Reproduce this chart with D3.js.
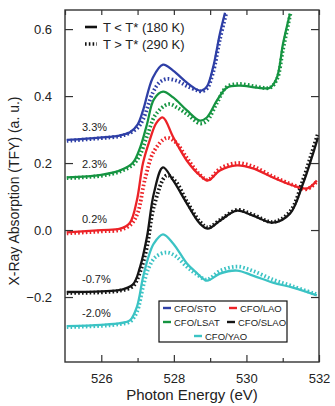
<!DOCTYPE html>
<html lang="en">
<head>
<meta charset="UTF-8">
<title>XAS spectra</title>
<script src="https://d3js.org/d3.v7.min.js"></script>
<style>
  body { margin: 0; background: #fff; font-family: "Liberation Sans", Arial, sans-serif; }
  .axis path, .axis line { stroke: #333; stroke-width: 1.2px; }
  .axis text { font-size: 13px; fill: #222; font-family: "Liberation Sans", Arial, sans-serif; }
</style>
</head>
<body>
<svg width="335" height="406"></svg>
<script>
// energies (eV) and absorption (a.u.)
const stoCold = [[525.05,0.269],[525.96,0.276],[526.50,0.282],[526.79,0.292],[527.00,0.315],[527.15,0.357],[527.42,0.455],[527.70,0.494],[527.98,0.476],[528.36,0.440],[528.64,0.419],[528.76,0.416],[528.91,0.428],[529.08,0.485],[529.27,0.587],[529.41,0.649]];
const stoHot  = [[525.05,0.266],[525.96,0.274],[526.50,0.280],[526.79,0.290],[527.00,0.305],[527.15,0.330],[527.42,0.410],[527.60,0.440],[527.80,0.451],[528.10,0.445],[528.36,0.430],[528.64,0.417],[528.76,0.414],[528.91,0.422],[529.08,0.470],[529.27,0.570],[529.45,0.650]];
const lsatCold = [[525.05,0.157],[526.00,0.165],[526.52,0.178],[526.87,0.201],[527.07,0.246],[527.26,0.316],[527.45,0.390],[527.70,0.413],[527.98,0.396],[528.36,0.357],[528.72,0.327],[528.91,0.336],[529.19,0.387],[529.46,0.425],[529.82,0.431],[530.29,0.425],[530.65,0.425],[530.84,0.455],[531.01,0.557],[531.20,0.646]];
const lsatHot  = [[525.05,0.155],[526.00,0.162],[526.52,0.175],[526.87,0.195],[527.07,0.225],[527.26,0.280],[527.50,0.345],[527.85,0.376],[528.10,0.365],[528.40,0.343],[528.72,0.318],[528.91,0.326],[529.19,0.380],[529.46,0.428],[529.82,0.436],[530.29,0.428],[530.65,0.425],[530.84,0.450],[531.01,0.540],[531.22,0.650]];
const laoCold = [[525.05,-0.007],[526.00,0.000],[526.52,0.004],[526.79,0.022],[526.98,0.088],[527.15,0.200],[527.34,0.270],[527.52,0.320],[527.70,0.336],[527.98,0.278],[528.36,0.207],[528.72,0.163],[528.94,0.148],[529.27,0.178],[529.74,0.193],[530.18,0.184],[530.73,0.157],[531.28,0.133],[531.67,0.124],[531.94,0.148]];
const laoHot  = [[525.05,-0.010],[526.00,-0.004],[526.50,0.000],[526.80,0.015],[527.00,0.050],[527.20,0.150],[527.45,0.235],[527.80,0.275],[528.05,0.262],[528.36,0.215],[528.72,0.165],[528.94,0.150],[529.27,0.183],[529.74,0.200],[530.18,0.190],[530.73,0.160],[531.28,0.135],[531.67,0.122],[531.94,0.145]];
const slaoCold = [[525.05,-0.185],[526.00,-0.183],[526.52,-0.179],[526.87,-0.163],[527.07,-0.110],[527.26,-0.020],[527.45,0.110],[527.70,0.187],[527.98,0.148],[528.36,0.079],[528.72,0.019],[528.94,0.004],[529.27,0.028],[529.74,0.058],[530.18,0.043],[530.73,0.022],[531.20,0.049],[531.56,0.139],[531.80,0.216],[531.97,0.276]];
const slaoHot  = [[525.05,-0.188],[526.00,-0.186],[526.52,-0.181],[526.87,-0.168],[527.07,-0.125],[527.26,-0.050],[527.45,0.070],[527.80,0.163],[528.05,0.145],[528.36,0.085],[528.72,0.025],[528.94,0.008],[529.27,0.030],[529.74,0.060],[530.18,0.046],[530.73,0.024],[531.20,0.055],[531.56,0.150],[531.80,0.230],[531.97,0.288]];
const yaoCold = [[525.05,-0.287],[526.00,-0.283],[526.52,-0.278],[526.79,-0.270],[526.98,-0.230],[527.15,-0.141],[527.30,-0.080],[527.45,-0.040],[527.70,-0.013],[527.98,-0.040],[528.36,-0.100],[528.60,-0.125],[528.91,-0.151],[529.27,-0.130],[529.74,-0.121],[530.18,-0.136],[530.73,-0.157],[531.28,-0.172],[531.94,-0.195]];
const yaoHot  = [[525.05,-0.290],[526.00,-0.286],[526.52,-0.281],[526.79,-0.274],[526.98,-0.245],[527.15,-0.170],[527.30,-0.115],[527.50,-0.080],[527.80,-0.067],[528.05,-0.078],[528.36,-0.110],[528.60,-0.130],[528.91,-0.148],[529.27,-0.122],[529.74,-0.109],[530.18,-0.122],[530.73,-0.148],[531.28,-0.168],[531.94,-0.192]];

const samples = ["CFO/STO", "CFO/LSAT", "CFO/LAO", "CFO/SLAO", "CFO/YAO"];
const strains = ["3.3%", "2.3%", "0.2%", "-0.7%", "-2.0%"];
const colors = ["#2e3fa6", "#159441", "#ec2227", "#151515", "#3bc3c4"];
const coldSeries = [stoCold, lsatCold, laoCold, slaoCold, yaoCold];
const hotSeries = [stoHot, lsatHot, laoHot, slaoHot, yaoHot];
const tempLabels = ["T < T* (180 K)", "T > T* (290 K)"];
const xTicks = [526, 528, 530, 532];
const yTicks = [-0.2, 0.0, 0.2, 0.4, 0.6];

const margin = {top: 10, right: 16, bottom: 44, left: 65};
const width = 335, height = 406;
const svg = d3.select("svg");

const x = d3.scaleLinear().domain([525, 532]).range([margin.left, width - margin.right]);
const y = d3.scaleLinear().domain([-0.394, 0.657]).range([height - margin.bottom, margin.top]);

svg.append("clipPath").attr("id", "clip")
  .append("rect")
  .attr("x", margin.left).attr("y", margin.top)
  .attr("width", x.range()[1] - margin.left).attr("height", y.range()[0] - margin.top);

const line = d3.line().x(d => x(d[0])).y(d => y(d[1])).curve(d3.curveCatmullRom.alpha(0.5));

const plot = svg.append("g").attr("clip-path", "url(#clip)");
samples.forEach((s, i) => {
  plot.append("path").datum(hotSeries[i])
    .attr("d", line).attr("fill", "none").attr("stroke", colors[i])
    .attr("stroke-width", 3.8).attr("stroke-dasharray", "1.6,2.2");
  plot.append("path").datum(coldSeries[i])
    .attr("d", line).attr("fill", "none").attr("stroke", colors[i])
    .attr("stroke-width", 2.3);
  svg.append("text")
    .attr("x", 82).attr("y", y(coldSeries[i][0][1]) - 9)
    .attr("font-size", 11).attr("fill", "#222")
    .text(strains[i]);
});

// axes with inward ticks
const pBottom = y.range()[0], pTop = margin.top, pLeft = margin.left, pRight = x.range()[1];
svg.append("g").attr("class", "axis").attr("transform", `translate(0,${pBottom})`)
  .call(d3.axisBottom(x).tickValues(xTicks).tickSizeInner(-7).tickSizeOuter(0).tickPadding(12).tickFormat(d3.format("d")));
svg.append("g").attr("class", "axis").attr("transform", `translate(0,${pBottom})`)
  .call(d3.axisBottom(x).tickValues([527, 529, 531]).tickSizeInner(-4).tickSizeOuter(0).tickFormat(""));
svg.append("g").attr("class", "axis").attr("transform", `translate(0,${pTop})`)
  .call(d3.axisTop(x).tickValues(d3.range(525, 533)).tickSizeInner(-5).tickSizeOuter(0).tickFormat(""));
svg.append("g").attr("class", "axis").attr("transform", `translate(${pLeft},0)`)
  .call(d3.axisLeft(y).tickValues(yTicks).tickSizeInner(-8).tickSizeOuter(0).tickPadding(13).tickFormat(d3.format(".1f")));
svg.append("g").attr("class", "axis").attr("transform", `translate(${pRight},0)`)
  .call(d3.axisRight(y).tickValues(yTicks).tickSizeInner(-8).tickSizeOuter(0).tickFormat(""));
svg.selectAll(".axis .domain").remove();
svg.append("rect").attr("x", pLeft).attr("y", pTop).attr("width", pRight - pLeft).attr("height", pBottom - pTop)
  .attr("fill", "none").attr("stroke", "#333").attr("stroke-width", 1.4);

svg.append("text").attr("x", (pLeft + pRight) / 2).attr("y", 400).attr("text-anchor", "middle")
  .attr("font-size", 15).attr("fill", "#222").text("Photon Energy (eV)");
svg.append("text").attr("transform", `translate(19,${(pTop + pBottom) / 2 + 5}) rotate(-90)`)
  .attr("text-anchor", "middle").attr("font-size", 14).attr("fill", "#222")
  .text("X-Ray Absorption (TFY) (a. u.)");

// temperature legend
tempLabels.forEach((t, i) => {
  const ly = 27 + i * 17;
  svg.append("line").attr("x1", 85).attr("x2", 97).attr("y1", ly).attr("y2", ly)
    .attr("stroke", "#111").attr("stroke-width", i ? 3.4 : 2.6)
    .attr("stroke-dasharray", i ? "1.6,2.2" : null);
  svg.append("text").attr("x", 103).attr("y", ly + 5).attr("font-size", 13).attr("fill", "#222").text(t);
});

// sample legend
svg.append("rect").attr("x", 159).attr("y", 301).attr("width", 128).attr("height", 41)
  .attr("fill", "#fff").attr("stroke", "#111").attr("stroke-width", 1.2);
const legPos = [[163, 308], [163, 322], [229, 308], [227, 322], [194, 336]];
samples.forEach((s, i) => {
  const [lx, ly] = legPos[i];
  svg.append("line").attr("x1", lx).attr("x2", lx + 8).attr("y1", ly).attr("y2", ly)
    .attr("stroke", colors[i]).attr("stroke-width", 2.4);
  svg.append("text").attr("x", lx + 11).attr("y", ly + 3.5).attr("font-size", 9.5).attr("fill", "#222").text(s);
});
</script>
</body>
</html>
